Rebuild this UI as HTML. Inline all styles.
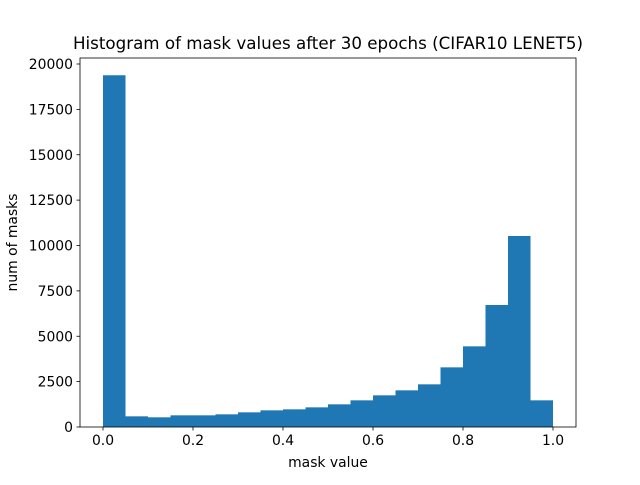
<!DOCTYPE html>
<html><head><meta charset="utf-8"><style>
body{margin:0;background:#fff}
svg text{font-family:"DejaVu Sans","Liberation Sans",sans-serif;fill:#000}
</style></head><body>
<svg id="chart" width="640" height="480" viewBox="0 0 640 480" xmlns="http://www.w3.org/2000/svg">
<text x="328" y="49" font-size="16.7" text-anchor="middle">Histogram of mask values after 30 epochs (CIFAR10 LENET5)</text>
<g id="bars"></g>
<g id="axes"></g>
<text x="328" y="467" font-size="13.9" text-anchor="middle">mask value</text>
<text transform="translate(17,242.5) rotate(-90)" font-size="13.9" text-anchor="middle">num of masks</text>
</svg>
<script>
const binEdgesStart = 0.0;
const binWidth = 0.05;
const counts = [19380, 588, 533, 643, 643, 698, 808, 918, 973, 1083, 1249, 1469, 1745, 2020, 2351, 3287, 4444, 6722, 10523, 1469];
const xTicks = [0.0, 0.2, 0.4, 0.6, 0.8, 1.0];
const xTickLabels = ["0.0", "0.2", "0.4", "0.6", "0.8", "1.0"];
const yTicks = [0, 2500, 5000, 7500, 10000, 12500, 15000, 17500, 20000];
const yTickLabels = ["0", "2500", "5000", "7500", "10000", "12500", "15000", "17500", "20000"];

const L=80,R=576,T=58,B=427;
const x=v=>103+v*450;
const y=v=>427-v*363/20000;
const NS="http://www.w3.org/2000/svg";
function mk(tag,attrs,parent){const e=document.createElementNS(NS,tag);for(const k in attrs)e.setAttribute(k,attrs[k]);parent.appendChild(e);return e;}
const bars=document.getElementById('bars');
counts.forEach((c,i)=>{
  const x0=x(binEdgesStart+i*binWidth), x1=x(binEdgesStart+(i+1)*binWidth);
  const r=mk('rect',{x:x0,y:y(c),width:x1-x0,height:y(0)-y(c),fill:'#1f77b4'},bars);
  
  
});
const ax=document.getElementById('axes');
const frame=mk('rect',{x:L,y:T,width:R-L,height:B-T,fill:'none',stroke:'#000','stroke-width':0.8},ax);


xTicks.forEach((t,i)=>{
  const px=x(t);
  const l=mk('line',{x1:px,x2:px,y1:B,y2:B+3.5,stroke:'#000','stroke-width':0.8},ax);
  
  
  const tx=mk('text',{x:px,y:B+18,'font-size':13.9,'text-anchor':'middle'},ax);
  tx.textContent=xTickLabels[i];
  
  
});
yTicks.forEach((t,i)=>{
  const py=y(t);
  const l=mk('line',{x1:L-3.5,x2:L,y1:py,y2:py,stroke:'#000','stroke-width':0.8},ax);
  
  
  const tx=mk('text',{x:L-7,y:py+5,'font-size':13.9,'text-anchor':'end'},ax);
  tx.textContent=yTickLabels[i];
  
  
});
</script>
</body></html>
